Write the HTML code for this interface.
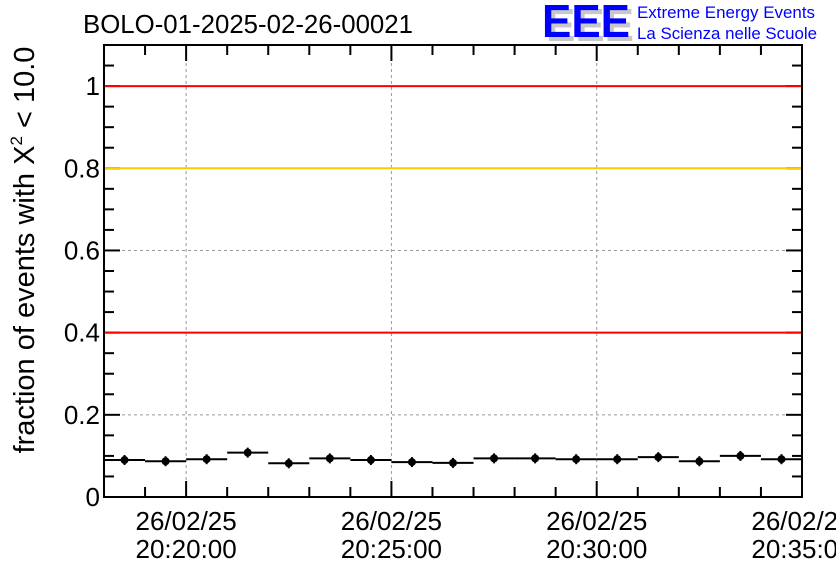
<!DOCTYPE html>
<html><head><meta charset="utf-8"><style>
html,body{margin:0;padding:0;background:#fff;}
svg{display:block;font-family:"Liberation Sans",sans-serif;}
</style></head><body>
<svg id="chart" width="836" height="572" viewBox="0 0 836 572" xmlns="http://www.w3.org/2000/svg">
<rect width="836" height="572" fill="#fff"/>
<text x="83" y="33" font-size="26" textLength="330" lengthAdjust="spacingAndGlyphs">BOLO-01-2025-02-26-00021</text>
<g>
<text x="546" y="41" font-size="46" font-weight="bold" fill="#c8c8c8" textLength="88" lengthAdjust="spacingAndGlyphs">EEE</text>
<text x="542" y="37" font-size="46" font-weight="bold" fill="#0000ff" textLength="88" lengthAdjust="spacingAndGlyphs">EEE</text>
<text x="637" y="18" font-size="17" fill="#0000ff" textLength="178" lengthAdjust="spacingAndGlyphs">Extreme Energy Events</text>
<text x="637" y="39" font-size="17" fill="#0000ff" textLength="180" lengthAdjust="spacingAndGlyphs">La Scienza nelle Scuole</text>
</g>
<text transform="translate(34,250) rotate(-90)" text-anchor="middle" font-size="29">fraction of events with X<tspan dy="-12" font-size="17">2</tspan><tspan dy="12"> &lt; 10.0</tspan></text>
<g id="plot"></g>
</svg>
<script>
const yTicks = [0, 0.2, 0.4, 0.6, 0.8, 1];
const yTickLabels = ["0", "0.2", "0.4", "0.6", "0.8", "1"];
const xTickMinutes = [20, 25, 30, 35];
const xTickDates = ["26/02/25", "26/02/25", "26/02/25", "26/02/25"];
const xTickTimes = ["20:20:00", "20:25:00", "20:30:00", "20:35:00"];
const binStartMinutes = [18,19,20,21,22,23,24,25,26,27,28,29,30,31,32,33,34];
const fractions = [0.090,0.087,0.092,0.108,0.082,0.094,0.090,0.085,0.083,0.094,0.094,0.092,0.092,0.097,0.087,0.100,0.092];
const thresholdValues = [1.0, 0.8, 0.4];
const thresholdColors = ["#ff0000", "#ffcc00", "#ff0000"];

const L=104,R=802,T=45,B=497, xMin=18, xMax=35, yMax=1.1;
const X=m=>L+(m-xMin)/(xMax-xMin)*(R-L);
const Y=v=>B-v/yMax*(B-T);
const NS="http://www.w3.org/2000/svg";
const g=document.getElementById('plot');
function mk(tag,attrs,parent){const e=document.createElementNS(NS,tag);for(const k in attrs)e.setAttribute(k,attrs[k]);(parent||g).appendChild(e);return e;}

yTicks.forEach(v=>{ if(v>0&&v<1){const e=mk('line',{x1:L,x2:R,y1:Y(v),y2:Y(v),stroke:'#999','stroke-dasharray':'3,3','stroke-width':1});

}});
xTickMinutes.forEach(m=>{ if(m<xMax){const e=mk('line',{x1:X(m),x2:X(m),y1:T,y2:B,stroke:'#999','stroke-dasharray':'3,3','stroke-width':1});

}});
for(let v=0;v<=yMax+1e-9;v+=0.05){const major=Math.abs(v/0.2-Math.round(v/0.2))<1e-6;const len=major?16:10;
mk('line',{x1:L,x2:L+len,y1:Y(v),y2:Y(v),stroke:'#000','stroke-width':2});
mk('line',{x1:R,x2:R-len,y1:Y(v),y2:Y(v),stroke:'#000','stroke-width':2});}
for(let m=xMin;m<=xMax;m++){const major=m%5===0;const len=major?16:10;
mk('line',{x1:X(m),x2:X(m),y1:B,y2:B-len,stroke:'#000','stroke-width':2});
mk('line',{x1:X(m),x2:X(m),y1:T,y2:T+len,stroke:'#000','stroke-width':2});}
thresholdValues.forEach((v,i)=>{const e=mk('line',{x1:L,x2:R,y1:Y(v),y2:Y(v),stroke:thresholdColors[i],'stroke-width':2});

});
yTicks.forEach((v,i)=>{const t=mk('text',{x:L-4,y:Y(v)+9,'text-anchor':'end','font-size':26});t.textContent=yTickLabels[i];

});
xTickMinutes.forEach((m,i)=>{const t=mk('text',{x:X(m),y:530,'text-anchor':'middle','font-size':26});t.textContent=xTickDates[i];


const t2=mk('text',{x:X(m),y:558,'text-anchor':'middle','font-size':26});t2.textContent=xTickTimes[i];

});
fractions.forEach((v,i)=>{const m=binStartMinutes[i];
const grp=mk('g',{});


mk('line',{x1:X(m),x2:X(m+1),y1:Y(v),y2:Y(v),stroke:'#000','stroke-width':2},grp);
mk('line',{x1:X(m+0.5),x2:X(m+0.5),y1:Y(v)-5,y2:Y(v)+5,stroke:'#000','stroke-width':2},grp);
mk('circle',{cx:X(m+0.5),cy:Y(v),r:4,fill:'#000'},grp);});
const f=mk('rect',{x:L,y:T,width:R-L,height:B-T,fill:'none',stroke:'#000','stroke-width':2});


</script>
</body></html>
